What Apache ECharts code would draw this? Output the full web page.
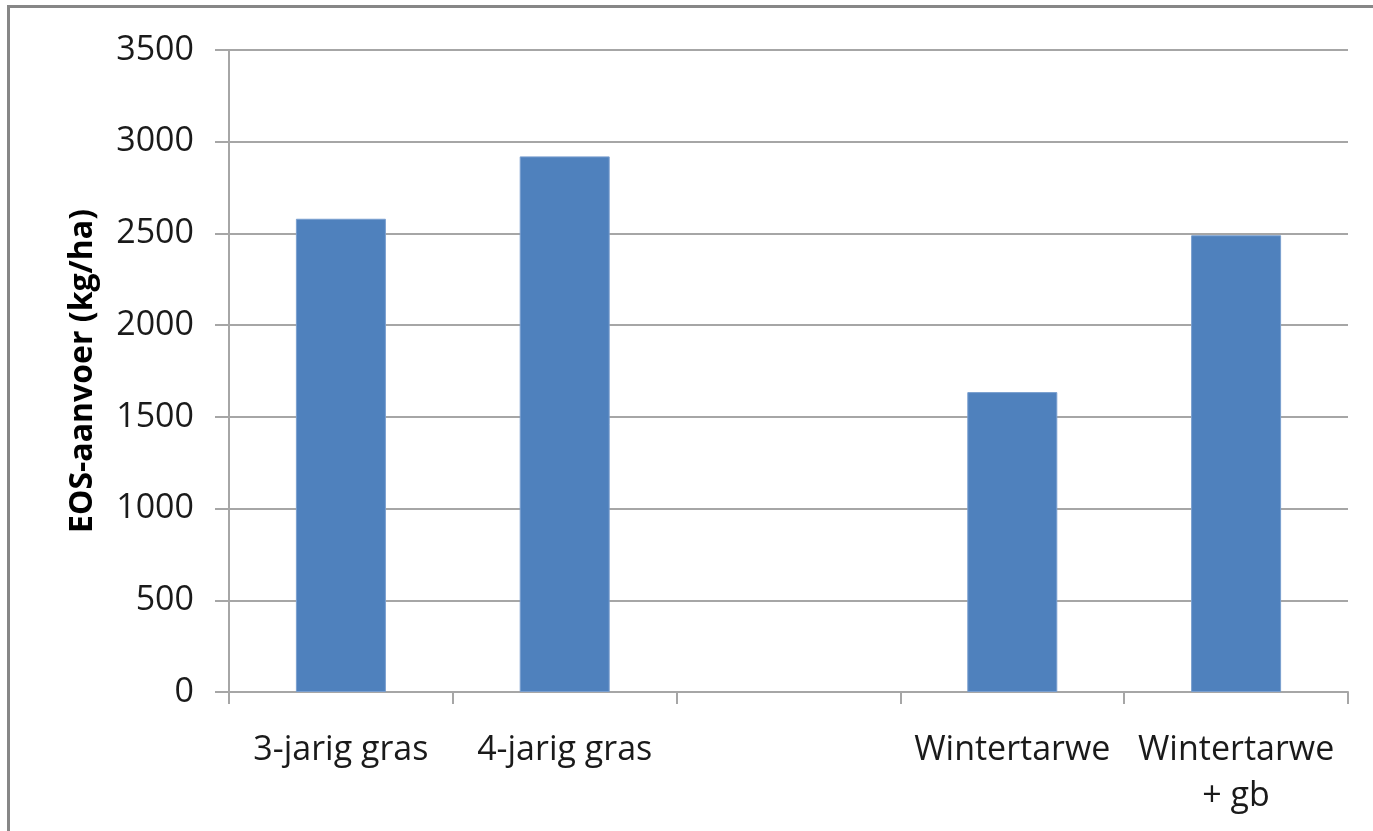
<!DOCTYPE html>
<html>
<head>
<meta charset="utf-8">
<script src="https://cdn.jsdelivr.net/npm/echarts@6/dist/echarts.min.js"></script>
<style>
  html, body { margin: 0; padding: 0; background: #fff; }
  #frame { position: absolute; left: 7px; top: 5px; width: 1366px; height: 826px;
           border-left: 3px solid #878787; border-top: 3px solid #878787; }
  #chart { position: absolute; left: 0; top: 0; width: 1373px; height: 831px; }
</style>
</head>
<body>
<div id="frame"></div>
<div id="chart"></div>
<script>
// Categories (the empty slot keeps the gap between grass and wheat groups)
const categories = ['3-jarig gras', '4-jarig gras', '', 'Wintertarwe', 'Wintertarwe\n+ gb'];
// EOS supply per crop, kg/ha
const eosValues = [2580, 2920, null, 1635, 2490];
// Value axis settings
const yMin = 0, yMax = 3500, yStep = 500;
const yTitle = 'EOS-aanvoer (kg/ha)';

const FONT = "'Open Sans', 'DejaVu Sans', sans-serif";
const GRID_GRAY = '#A6A6A6';

const chart = echarts.init(document.getElementById('chart'), null, { renderer: 'canvas' });
chart.setOption({
  animation: false,
  backgroundColor: 'transparent',
  grid: { left: 229, right: 25, top: 50, bottom: 139, containLabel: false },
  xAxis: {
    type: 'category',
    data: categories,
    boundaryGap: true,
    axisLine: { show: true, lineStyle: { color: GRID_GRAY, width: 2 } },
    axisTick: { show: true, length: 12, alignWithLabel: false, lineStyle: { color: GRID_GRAY, width: 2 } },
    axisLabel: {
      interval: 0, margin: 35, color: '#1a1a1a', fontFamily: FONT, fontSize: 34,
      lineHeight: 46, align: 'center'
    },
    splitLine: { show: false }
  },
  yAxis: {
    type: 'value',
    min: yMin, max: yMax, interval: yStep,
    name: yTitle,
    nameLocation: 'middle',
    nameGap: 130,
    nameRotate: 90,
    nameTextStyle: { fontFamily: FONT, fontWeight: 'bold', fontSize: 32, color: '#000' },
    axisLine: { show: true, lineStyle: { color: GRID_GRAY, width: 2 } },
    axisTick: { show: true, length: 14, lineStyle: { color: GRID_GRAY, width: 2 } },
    axisLabel: { margin: 35, color: '#1a1a1a', fontFamily: FONT, fontSize: 34,
                 formatter: v => String(v) },
    splitLine: { show: true, lineStyle: { color: GRID_GRAY, width: 2 } }
  },
  series: [{
    type: 'bar',
    data: eosValues,
    barWidth: 90,
    itemStyle: { color: '#4F81BD', borderColor: '#7A9FCF', borderWidth: 1 }
  }]
});
</script>
</body>
</html>
